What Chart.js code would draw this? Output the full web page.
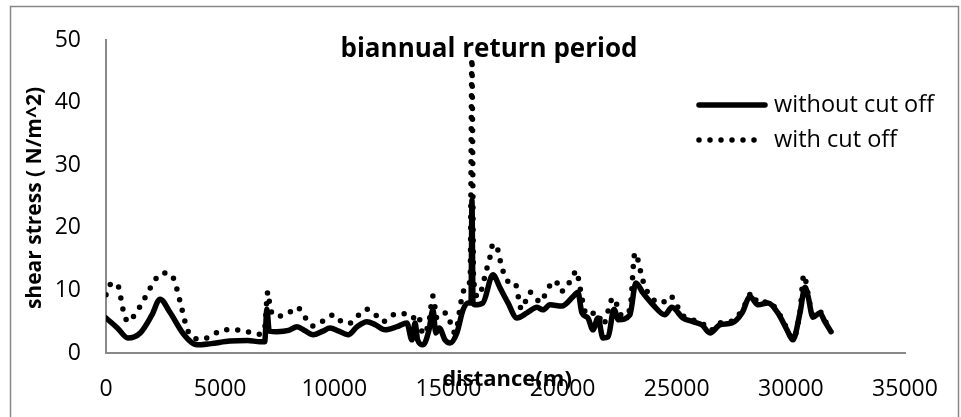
<!DOCTYPE html>
<html>
<head>
<meta charset="utf-8">
<script src="https://cdn.jsdelivr.net/npm/chart.js@4"></script>
<style>
  html, body { margin: 0; padding: 0; background: #fff; }
  #wrap { width: 961px; height: 417px; position: relative; }
</style>
</head>
<body>
<div id="wrap"><canvas id="shearChart"></canvas></div>
<script>
// distance (m) and shear stress (N/m^2)
const withoutX = [
  0, 500, 960, 1500, 2000, 2370, 2800, 3400, 3990, 4600,
  5430, 6200, 6750, 6950, 7050, 7150, 7490, 8000, 8370, 8700,
  9070, 9500, 9810, 10200, 10600, 11000, 11430, 11800, 12220, 12750,
  13180, 13400, 13540, 13650, 13890, 14150, 14320, 14450, 14600, 14850,
  15070, 15370, 15640, 15860, 15990, 16030, 16080, 16160, 16510, 16950,
  17260, 17610, 18000, 18440, 18880, 19140, 19450, 19970, 20460, 20670,
  20850, 21110, 21330, 21550, 21770, 22000, 22250, 22450, 22950, 23210,
  23520, 23960, 24480, 24790, 25270, 25710, 26100, 26460, 26890, 27420,
  27860, 28210, 28560, 29000, 29430, 29830, 30090, 30400, 30620, 30750,
  30970, 31270, 31490, 31760
];
const withoutY = [
  5.6, 4.0, 2.4, 3.2, 6.0, 8.6, 6.5, 3.0, 1.3, 1.5,
  1.9, 2.0, 1.8, 1.8, 7.0, 3.5, 3.4, 3.6, 4.2, 3.6,
  2.9, 3.5, 4.0, 3.5, 2.9, 4.2, 5.0, 4.5, 3.7, 4.2,
  4.8, 2.1, 4.8, 2.1, 1.3, 3.7, 6.9, 3.2, 4.0, 2.1,
  1.6, 3.2, 6.9, 8.0, 8.0, 24.4, 8.0, 7.7, 8.0, 12.5,
  10.4, 8.0, 5.6, 6.4, 7.3, 6.9, 7.7, 7.5, 9.0, 9.7,
  6.4, 5.6, 3.7, 5.6, 2.4, 2.6, 7.0, 5.3, 6.1, 11.2,
  9.6, 7.7, 6.1, 7.3, 5.6, 5.0, 4.5, 3.2, 4.5, 4.8,
  6.4, 9.0, 7.7, 8.0, 6.4, 3.7, 2.1, 6.4, 10.5, 9.1,
  5.7, 6.4, 5.0, 3.4
];
const withX = [
  0, 260, 530, 750, 960, 1310, 1580, 1840, 2150, 2540,
  2930, 3240, 3500, 3680, 4200, 4730, 5120, 5640, 6180, 6700,
  6950, 7090, 7200, 7490, 7930, 8370, 8720, 9070, 9500, 9990,
  10420, 10690, 11080, 11430, 11870, 12130, 12570, 13010, 13400, 13670,
  13890, 14150, 14320, 14500, 14890, 15290, 15510, 15590, 15810, 15950,
  16030, 16100, 16300, 16690, 16820, 16950, 17130, 17260, 17390, 17700,
  17910, 18200, 18570, 19050, 19320, 19710, 19890, 20110, 20370, 20630,
  20720, 21070, 21510, 21770, 22210, 22600, 22950, 23170, 23480, 23610,
  24350, 24700, 25270, 25710, 26100, 26460, 26890, 27420, 27860, 28300,
  28560, 29000, 29430, 29830, 30090, 30400, 30570, 30750, 30970, 31270,
  31490, 31760
];
const withY = [
  9.3, 11.2, 10.7, 6.9, 5.0, 6.4, 8.0, 9.7, 11.7, 12.8,
  12.1, 8.3, 4.5, 2.9, 2.2, 3.0, 3.7, 3.7, 3.4, 3.0,
  4.0, 9.8, 7.0, 5.9, 6.2, 7.3, 5.7, 4.3, 5.1, 6.1,
  4.8, 4.8, 6.1, 7.0, 5.9, 5.0, 6.1, 6.3, 5.5, 6.1,
  3.0, 5.0, 9.1, 5.5, 6.4, 3.2, 7.2, 8.9, 10.9, 11.5,
  47.1, 12.0, 9.0, 13.6, 15.3, 17.4, 16.9, 14.9, 13.1, 11.2,
  11.2, 7.0, 9.7, 8.1, 10.1, 11.5, 9.9, 10.1, 11.8, 13.1,
  11.3, 6.1, 6.5, 4.5, 8.8, 6.0, 7.0, 16.0, 12.1, 10.5,
  8.0, 9.1, 6.0, 5.3, 4.8, 3.6, 4.8, 5.1, 6.8, 9.6,
  8.0, 8.2, 6.6, 3.9, 2.3, 6.6, 12.5, 9.5, 6.0, 6.6,
  5.2, 3.6
];
const seriesNames = ['without cut off', 'with cut off'];
const xTicks = [0, 5000, 10000, 15000, 20000, 25000, 30000, 35000];
const yTicks = [0, 10, 20, 30, 40, 50];

const FONT = '"Open Sans", "Liberation Sans", sans-serif';
const DOTS = [0, 11];

const toPoints = (xs, ys) => xs.map((x, i) => ({ x: x, y: ys[i] }));

// chart title, axis titles, legend and outer frame (drawn over the plot like in Excel)
const overlay = {
  id: 'overlay',
  afterDraw(chart) {
    const ctx = chart.ctx;
    ctx.save();
    ctx.strokeStyle = '#888';
    ctx.lineWidth = 1.5;
    ctx.strokeRect(10.5, 6.5, 948, 420);

    ctx.fillStyle = '#000';
    ctx.textAlign = 'center';
    ctx.textBaseline = 'middle';
    ctx.font = 'bold 26px ' + FONT;
    ctx.fillText('biannual return period', 489, 50);

    ctx.font = 'bold 22px ' + FONT;
    ctx.fillText('distance(m)', 507, 380);

    ctx.save();
    ctx.translate(35, 198);
    ctx.rotate(-Math.PI / 2);
    ctx.font = 'bold 21px ' + FONT;
    ctx.fillText('shear stress ( N/m^2)', 0, 0);
    ctx.restore();

    // legend
    ctx.strokeStyle = '#000';
    ctx.lineWidth = 5.5;
    ctx.lineCap = 'round';
    ctx.beginPath();
    ctx.moveTo(699, 105); ctx.lineTo(765, 105);
    ctx.stroke();
    ctx.setLineDash(DOTS);
    ctx.beginPath();
    ctx.moveTo(699, 140); ctx.lineTo(760, 140);
    ctx.stroke();
    ctx.setLineDash([]);
    ctx.textAlign = 'left';
    ctx.font = '23.5px ' + FONT;
    ctx.fillText(seriesNames[0], 774, 105);
    ctx.fillText(seriesNames[1], 774, 140);
    ctx.restore();
  }
};

new Chart(document.getElementById('shearChart'), {
  type: 'scatter',
  data: {
    datasets: [
      {
        label: seriesNames[0],
        data: toPoints(withoutX, withoutY),
        showLine: true,
        borderColor: '#000',
        borderWidth: 5.5,
        borderCapStyle: 'round',
        borderJoinStyle: 'round',
        cubicInterpolationMode: 'monotone',
        pointRadius: 0
      },
      {
        label: seriesNames[1],
        data: toPoints(withX, withY),
        showLine: true,
        borderColor: '#000',
        borderWidth: 5.5,
        borderDash: DOTS,
        borderCapStyle: 'round',
        borderJoinStyle: 'round',
        cubicInterpolationMode: 'monotone',
        pointRadius: 0
      }
    ]
  },
  options: {
    responsive: true,
    maintainAspectRatio: false,
    animation: false,
    devicePixelRatio: 1,
    layout: { padding: { left: 0, top: 40, right: 56, bottom: 0 } },
    plugins: {
      legend: { display: false },
      title: { display: false },
      tooltip: { enabled: false }
    },
    scales: {
      x: {
        type: 'linear',
        min: xTicks[0],
        max: xTicks[xTicks.length - 1],
        afterBuildTicks: s => { s.ticks = xTicks.map(v => ({ value: v })); },
        afterFit: s => { s.height = 64; },
        grid: { display: false, drawTicks: false },
        border: { display: true, color: '#888', width: 2 },
        ticks: {
          color: '#000', font: { family: FONT, size: 23 }, padding: 23, maxRotation: 0,
          callback: v => String(v)
        }
      },
      y: {
        min: yTicks[0],
        max: yTicks[yTicks.length - 1],
        afterBuildTicks: s => { s.ticks = yTicks.map(v => ({ value: v })); },
        afterFit: s => { s.width = 106; },
        grid: { display: false, drawTicks: false },
        border: { display: true, color: '#888', width: 2 },
        ticks: { color: '#000', font: { family: FONT, size: 23 }, padding: 25, callback: v => String(v) }
      }
    }
  },
  plugins: [overlay]
});
</script>
</body>
</html>
